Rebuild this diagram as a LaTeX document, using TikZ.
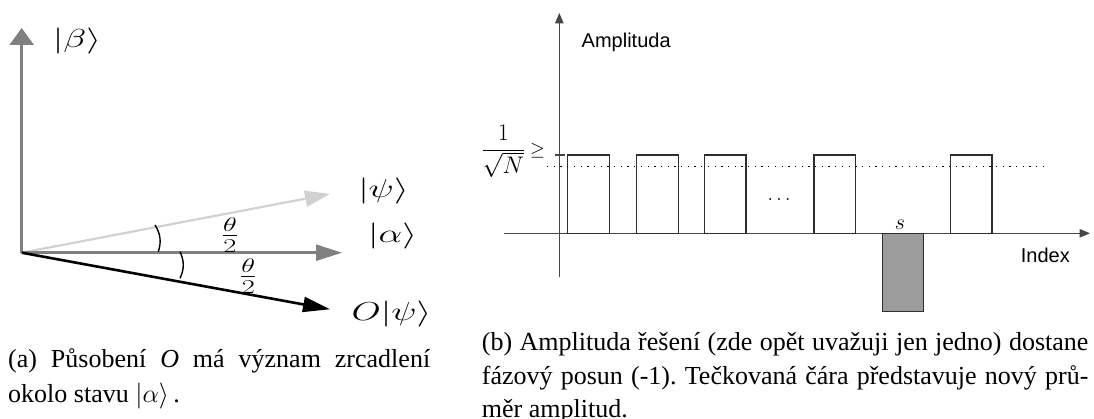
\RequirePackage{fix-cm}
\documentclass[tikz,border=0pt]{standalone}
\usepackage{fontspec}
\setmainfont{Liberation Serif}
\newfontfamily\helv{Liberation Sans}
\usepackage{graphicx}
\usetikzlibrary{arrows.meta}
\definecolor{midgray}{gray}{0.5}
\definecolor{lightgraytwo}{gray}{0.82}
\definecolor{axisgray}{gray}{0.27}
\definecolor{bargray}{gray}{0.18}
\definecolor{fillgray}{gray}{0.61}
\newcommand\xstretch[1]{\scalebox{1.45}[1]{#1}}
\tikzset{
  vec/.style={line cap=butt},
  lbl/.style={inner sep=0pt, font=\fontsize{26}{30}\selectfont},
  halflbl/.style={inner sep=0pt, font=\fontsize{28}{32}\selectfont},
  anglearc/.style={line width=1.4pt, black},
  axisline/.style={axisgray, line width=1pt, -{Triangle[length=10.5pt,width=8.5pt]}},
  barbox/.style={draw=bargray, line width=1.2pt},
  sanslbl/.style={inner sep=0pt, anchor=base west, font=\helv\fontsize{20}{24}\selectfont},
  caption/.style={inner sep=0pt, anchor=base west},
}
\frenchspacing
\begin{document}
\begin{tikzpicture}[x=1pt,y=-1pt]
\useasboundingbox (0,0) rectangle (1094,419);
% ---------- left panel ----------
\coordinate (o) at (21.7,252.7);
\coordinate (tb) at (21.7,28);
\coordinate (ta) at (342,252.7);
\coordinate (tp) at (330,194);
\coordinate (tO) at (330,309.3);
\draw[vec, line width=2.2pt, lightgraytwo, -{Triangle[length=25pt,width=16pt]}] (o) -- (tp);
\draw[vec, line width=2.4pt, midgray, -{Triangle[length=26pt,width=16pt]}] (o) -- (ta);
\draw[vec, line width=2.7pt, midgray, -{Triangle[length=17pt,width=24pt]}] (o) -- (tb);
\draw[vec, line width=2.6pt, black, -{Triangle[length=27pt,width=15pt]}] (o) -- (tO);
\coordinate (p1) at (155,225);
\coordinate (p2) at (158.3,251.7);
\coordinate (q1) at (180,251.7);
\coordinate (q2) at (180,278.3);
\draw[anglearc] (p1) to[bend left=25] (p2);
\draw[anglearc] (q1) to[bend left=25] (q2);
\node[lbl] (lbeta) at (77,41) {\xstretch{$|\beta\rangle$}};
\node[lbl] (lpsi) at (383.5,191.5) {\xstretch{$|\psi\rangle$}};
\node[lbl] (lalpha) at (392.5,236.5) {\xstretch{$|\alpha\rangle$}};
\node[lbl] (lopsi) at (391.5,314) {\xstretch{$O|\psi\rangle$}};
\node[halflbl] (th1) at (230,235) {\xstretch{$\frac{\theta}{2}$}};
\node[halflbl] (th2) at (248.3,276) {\xstretch{$\frac{\theta}{2}$}};
% ---------- right panel ----------
\coordinate (ybot) at (559.3,277);
\coordinate (ytop) at (559.3,13);
\coordinate (xl) at (504,233.3);
\coordinate (xr) at (1090,233.3);
\draw[axisline] (ybot) -- (ytop);
\draw[axisline] (xl) -- (xr);
\draw[barbox] (567.7,155) rectangle (609.3,233.3);
\draw[barbox] (636.7,155) rectangle (678.3,233.3);
\draw[barbox] (704.7,155) rectangle (746,233.3);
\draw[barbox] (814,155) rectangle (855.3,233.3);
\draw[barbox] (950.7,155) rectangle (992,233.3);
\draw[barbox, fill=fillgray] (882.3,233.3) rectangle (923.7,311.7);
\coordinate (tk1) at (554.5,155);
\coordinate (tk2) at (564.5,155);
\draw[axisgray, line width=1.2pt] (tk1) -- (tk2);
\coordinate (d1) at (547,166.7);
\coordinate (d2) at (1045,166.7);
\draw[black, line width=1.3pt, dash pattern=on 1.3pt off 5.4pt] (d1) -- (d2);
\node[sanslbl] (amp) at (581.5,47.3) {Amplituda};
\node[sanslbl] (idx) at (1020.7,262.7) {Index};
\node[inner sep=0pt, anchor=base, font=\fontsize{22}{26}\selectfont] (slbl) at (900,229.3) {$s$};
\node[inner sep=0pt, anchor=base, font=\fontsize{20}{24}\selectfont] (dots) at (779,200.5) {$\dots$};
\node[inner sep=0pt, anchor=base, font=\fontsize{24}{28}\selectfont] (frac) at (503.3,156.7) {$\displaystyle\frac{1}{\sqrt{N}}$};
\node[inner sep=0pt, anchor=base, font=\fontsize{19}{22}\selectfont] (geq) at (537.5,156) {$\geq$};
% ---------- captions ----------
\node[caption, font=\fontsize{26}{34.6}\selectfont] (capa) at (8,367.7) {\parbox[t]{422pt}{(a) Působení \textit{O} má význam zrcadlení\linebreak okolo stavu $|\alpha\rangle$\,.}};
\node[caption, font=\fontsize{26}{33.5}\selectfont] (capb) at (481.7,350.5) {\parbox[t]{606.5pt}{(b) Amplituda řešení (zde opět uvažuji jen jedno) dostane\linebreak fázový posun (-1). Tečkovaná čára představuje nový prů-\linebreak měr amplitud.}};
\end{tikzpicture}
\end{document}
